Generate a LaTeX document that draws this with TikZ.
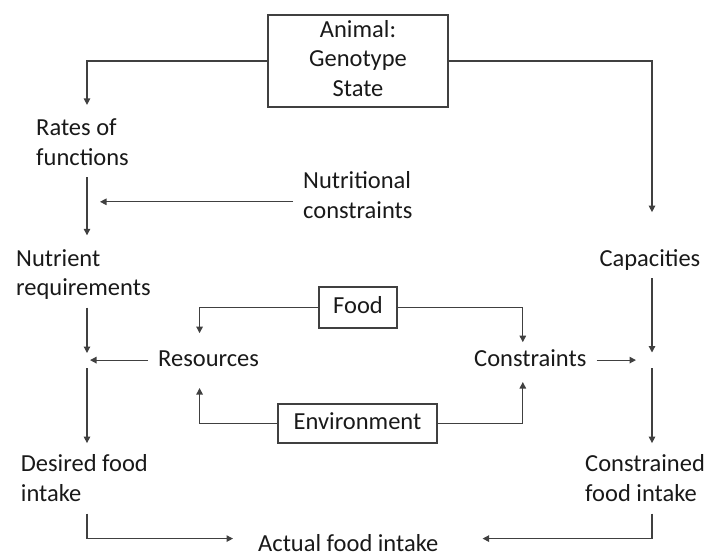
\documentclass[tikz,border=0pt]{standalone}
\usepackage{fontspec}
\setmainfont{Carlito}
\usepackage{tikz}
\usetikzlibrary{arrows.meta,positioning,calc}

\begin{document}
\begin{tikzpicture}[
  x=1pt, y=-1pt,
  font=\fontsize{24.5}{29.5}\selectfont,
  txt/.style  = {align=left, inner xsep=10pt, inner ysep=3pt, anchor=west,
                 text=black!90},
  box/.style  = {draw=black!75, line width=1.2pt, align=center, inner sep=0pt,
                 text=black!90},
  arr/.style  = {-{Triangle[length=6.5pt,width=6.5pt]}, draw=black!75,
                 line width=1.2pt}
]
\useasboundingbox (0,0) rectangle (711,558);

%%%%%%%%%%%%%%%%%%%%%%% ANIMAL AND REQUIREMENTS %%%%%%%%%%%%%%%%%%%%%%%%%%%%%%
\node[box, minimum width=180pt, minimum height=92pt] (animal) at (358,61)
      {\strut Animal:\\\strut Genotype\\\strut State};
\node[txt] (rates)   at (26,144.6)  {\strut Rates of\\\strut functions};
\node[txt] (nutcon)  at (293,197.8) {\strut Nutritional\\\strut constraints};
\node[txt] (nutreq)  at (6,275)     {\strut Nutrient\\\strut requirements};
\node[txt] (capac)   at (589.3,260.1) {\strut Capacities};

%%%%%%%%%%%%%%%%%%%%%%% FOOD AND ENVIRONMENT %%%%%%%%%%%%%%%%%%%%%%%%%%%%%%%%%
\node[box, minimum width=78pt, minimum height=41pt] (food) at (358,307.5)
      {\strut Food};
\node[txt] (resrc)   at (148,360.1) {\strut Resources};
\node[txt] (cnstr)   at (464,360.1) {\strut Constraints};
\node[box, minimum width=159pt, minimum height=39pt] (env) at (357.5,423.5)
      {\strut Environment};

%%%%%%%%%%%%%%%%%%%%%%% INTAKE %%%%%%%%%%%%%%%%%%%%%%%%%%%%%%%%%%%%%%%%%%%%%%%
\node[txt] (desired) at (10.7,480.8) {\strut Desired food\\\strut intake};
\node[txt] (constrd) at (575,480.8)  {\strut Constrained\\\strut food intake};
\node[txt, anchor=base west, inner ysep=0pt] (actual) at (248,551.5)
      {Actual food intake};

\coordinate (jl) at (87,359);
\coordinate (jr) at (652,359.5);

% left column
\draw[arr, shorten >=7pt] (animal.west) -| (rates.north -| jl);
\draw[arr, shorten >=7pt] (rates.south -| jl) -- (nutreq.north -| jl);
\draw[arr, shorten >=13pt] ([yshift=-4pt]nutcon.west)
      -- ([yshift=-4pt]nutcon.west -| jl);
\draw[arr, shorten >=6pt] (nutreq.south -| jl) -- (jl);
\draw[arr, shorten >=3pt] (resrc.west) -- (resrc.west -| jl);
\draw[arr, shorten <=9pt, shorten >=5pt] (jl) -- (desired.north -| jl);
\draw[arr, shorten >=15pt] (desired.south -| jl) |- ([yshift=4.5pt]actual.west);

% right column
\draw[arr, shorten >=30pt] (animal.east) -| (capac.north -| jr);
\draw[arr, shorten >=7pt] (capac.south -| jr) -- (jr);
\draw[arr, shorten >=16pt] (cnstr.east) -- (cnstr.east -| jr);
\draw[arr, shorten <=8.5pt, shorten >=5pt] (jr) -- (constrd.north -| jr);
\draw[arr, shorten >=34pt] (constrd.south -| jr) |- ([yshift=4.5pt]actual.east);

% food and environment
\draw[arr, shorten >=9pt]  (food.west) -| ([xshift=-9pt]resrc.north);
\draw[arr]                 (food.east) -| ([xshift=-7.5pt]cnstr.north);
\draw[arr, shorten >=10pt] (env.west)  -| ([xshift=-9pt]resrc.south);
\draw[arr, shorten >=4pt]  (env.east)  -| ([xshift=-7.5pt]cnstr.south);

\end{tikzpicture}
\end{document}
